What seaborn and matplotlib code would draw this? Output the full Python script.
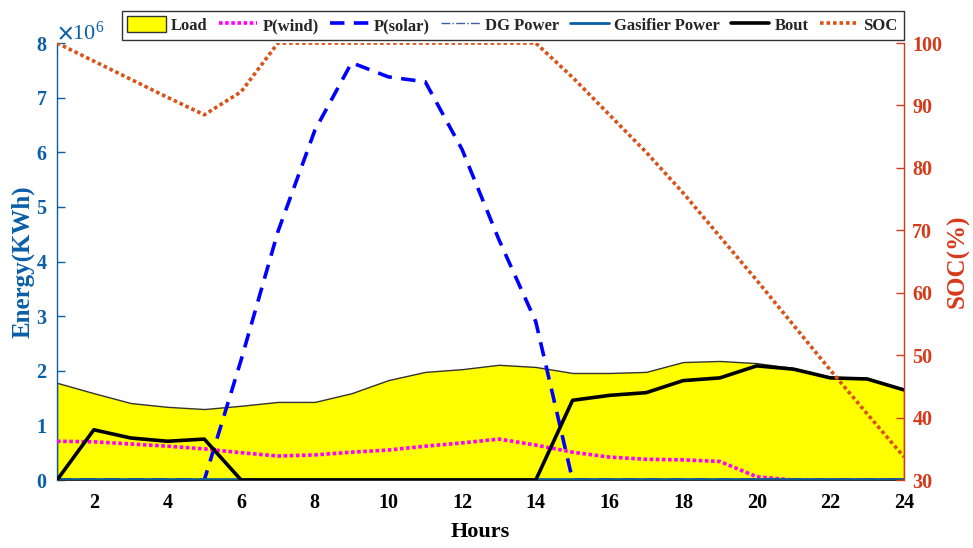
import numpy as np
import pandas as pd
import seaborn as sns
import matplotlib
matplotlib.use("Agg")
import matplotlib.pyplot as plt
from matplotlib.patches import Patch
from matplotlib.lines import Line2D
from matplotlib.ticker import ScalarFormatter

# Hourly energy balance (kWh) and battery state of charge (%)
hours = list(range(1, 25))
load_kwh = [1.78e6, 1.59e6, 1.41e6, 1.34e6, 1.30e6, 1.36e6, 1.43e6, 1.43e6,
            1.59e6, 1.83e6, 1.98e6, 2.03e6, 2.11e6, 2.07e6, 1.96e6, 1.96e6,
            1.98e6, 2.16e6, 2.18e6, 2.14e6, 2.05e6, 1.89e6, 1.87e6, 1.65e6]
wind_kwh = [0.71e6, 0.70e6, 0.66e6, 0.62e6, 0.57e6, 0.50e6, 0.44e6, 0.46e6,
            0.51e6, 0.55e6, 0.62e6, 0.68e6, 0.75e6, 0.64e6, 0.51e6, 0.42e6,
            0.38e6, 0.37e6, 0.34e6, 0.06e6, 0.0, 0.0, 0.0, 0.0]
solar_kwh = [0.0, 0.0, 0.0, 0.0, 0.0, 2.20e6, 4.55e6, 6.40e6,
             7.64e6, 7.38e6, 7.29e6, 6.05e6, 4.40e6, 2.90e6, 0.0, 0.0,
             0.0, 0.0, 0.0, 0.0, 0.0, 0.0, 0.0, 0.0]
dg_kwh = [0.0] * 24
gasifier_kwh = [0.0] * 24
bout_kwh = [0.0, 0.92e6, 0.77e6, 0.71e6, 0.75e6, 0.0, 0.0, 0.0,
            0.0, 0.0, 0.0, 0.0, 0.0, 0.0, 1.46e6, 1.55e6,
            1.60e6, 1.82e6, 1.87e6, 2.09e6, 2.03e6, 1.87e6, 1.85e6, 1.65e6]
soc_pct = [100, 97.1, 94.2, 91.3, 88.5, 92.2, 100, 100,
           100, 100, 100, 100, 100, 100, 94.5, 88.5,
           82.5, 76.0, 69.0, 62.0, 54.8, 47.6, 40.6, 33.7]

df = pd.DataFrame({"Hours": hours, "Load": load_kwh, "Wind": wind_kwh,
                   "Solar": solar_kwh, "DG": dg_kwh, "Gasifier": gasifier_kwh,
                   "Bout": bout_kwh, "SOC": soc_pct})

sns.set_theme(style="white")
plt.rcParams["font.family"] = ["Liberation Serif", "DejaVu Serif"]
plt.rcParams["font.weight"] = "bold"
plt.rcParams["mathtext.fontset"] = "stix"

LEFT_C = "#0A5EA8"
RIGHT_C = "#D63A1A"

fig = plt.figure(figsize=(9.73, 5.48), dpi=100)
ax = fig.add_axes([0.0586, 0.124, 0.8705, 0.7975])

ax.fill_between(df["Hours"], 0, df["Load"], facecolor="#FFFF00",
                edgecolor="#333333", linewidth=1.0, zorder=1)
sns.lineplot(data=df, x="Hours", y="Solar", ax=ax, color="#0000FF",
             linewidth=2.6, linestyle=(0, (4, 2.6)), zorder=2)
sns.lineplot(data=df, x="Hours", y="Wind", ax=ax, color="#FF00FF",
             linewidth=2.6, linestyle=(0, (1, 0.7)), zorder=3)
sns.lineplot(data=df, x="Hours", y="DG", ax=ax, color="#3A5FA8",
             linewidth=1.0, linestyle="-.", zorder=3)
sns.lineplot(data=df, x="Hours", y="Gasifier", ax=ax, color="#0F5C8C",
             linewidth=3.4, zorder=4)
sns.lineplot(data=df, x="Hours", y="Bout", ax=ax, color="black",
             linewidth=2.6, zorder=5)

ax.set_xlim(1, 24)
ax.set_ylim(0, 8e6)
ax.set_xticks(range(2, 25, 2))
ax.set_yticks(np.arange(0, 9) * 1e6)
fmt = ScalarFormatter(useMathText=True)
fmt.set_powerlimits((0, 0))
ax.yaxis.set_major_formatter(fmt)
off = ax.yaxis.get_offset_text()
off.set_color(LEFT_C)
off.set_fontsize(16)
off.set_fontweight("normal")

ax.tick_params(axis="x", length=0, labelsize=14.5, labelcolor="black", pad=9)
ax.tick_params(axis="y", direction="in", length=6, width=1, colors=LEFT_C,
               labelsize=14.5, pad=7)
for lbl in ax.get_xticklabels() + ax.get_yticklabels():
    lbl.set_fontweight("bold")
ax.set_xlabel("Hours", fontsize=16, fontweight="bold", color="black", labelpad=7)
ax.set_ylabel("Energy(KWh)", fontsize=18, fontweight="bold", color=LEFT_C, labelpad=1)

for side in ["top", "bottom", "right"]:
    ax.spines[side].set_visible(False)
ax.spines["left"].set_color(LEFT_C)
ax.spines["left"].set_linewidth(1.0)

ax2 = ax.twinx()
sns.lineplot(data=df, x="Hours", y="SOC", ax=ax2, color="#D95319",
             linewidth=2.6, linestyle=(0, (1, 0.8)))
ax2.set_ylim(30, 100)
ax2.set_yticks(range(30, 101, 10))
ax2.tick_params(axis="y", direction="in", length=6, width=1, colors=RIGHT_C,
                labelsize=14.5, pad=6)
for lbl in ax2.get_yticklabels():
    lbl.set_fontweight("bold")
ax2.set_ylabel("SOC(%)", fontsize=18, fontweight="bold", color=RIGHT_C, labelpad=3)
for side in ["top", "bottom", "left"]:
    ax2.spines[side].set_visible(False)
ax2.spines["right"].set_color(RIGHT_C)
ax2.spines["right"].set_linewidth(1.0)
ax2.set_xlim(1, 24)

handles = [
    Patch(facecolor="#FFFF00", edgecolor="#333333", linewidth=1.0),
    Line2D([], [], color="#FF00FF", linewidth=2.6, linestyle=(0, (1, 0.7))),
    Line2D([], [], color="#0000FF", linewidth=2.6, linestyle=(0, (4, 2.6))),
    Line2D([], [], color="#3A5FA8", linewidth=1.0, linestyle="-."),
    Line2D([], [], color="#0A5EA8", linewidth=2.0),
    Line2D([], [], color="black", linewidth=2.6),
    Line2D([], [], color="#D95319", linewidth=2.6, linestyle=(0, (1, 0.8))),
]
labels = ["Load", "P(wind)", "P(solar)", "DG Power", "Gasifier Power", "Bout", "SOC"]
leg = fig.legend(handles, labels, loc="center", ncol=7,
                 bbox_to_anchor=(0.5268, 0.954), frameon=True, fancybox=False,
                 edgecolor="black", fontsize=12, handlelength=2.3,
                 handleheight=1.1, handletextpad=0.3, columnspacing=0.7,
                 borderpad=0.35, borderaxespad=0)
leg.get_frame().set_linewidth(1.0)
for t in leg.get_texts():
    t.set_fontweight("bold")

fig.savefig("out.png", dpi=100)
